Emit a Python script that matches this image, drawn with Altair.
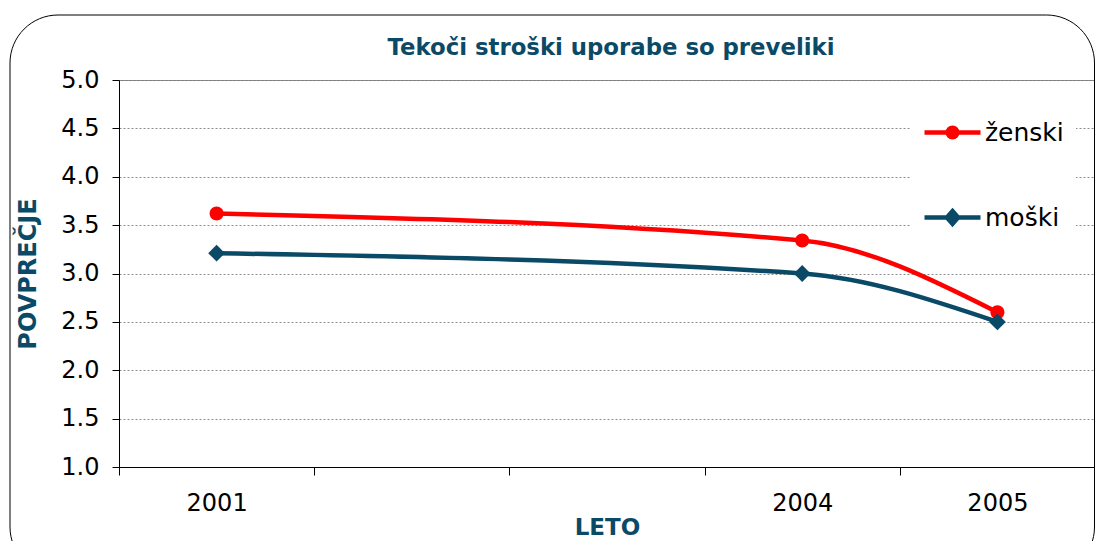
import altair as alt
import pandas as pd

# ---- data ----
years = [2001, 2004, 2005]
zenski = [3.62, 3.34, 2.60]
moski = [3.21, 3.00, 2.50]
series_names = ["ženski", "moški"]
series_colors = ["#FF0000", "#0B4A66"]
year_labels = ["2001", "2004", "2005"]
x_bounds = [2000.5, 2001.5, 2002.5, 2003.5, 2004.5, 2005.5]
y_ticks = [1.0, 1.5, 2.0, 2.5, 3.0, 3.5, 4.0, 4.5, 5.0]

TEAL = "#0B4A66"
FONT = "DejaVu Sans"

df = pd.DataFrame({
    "leto": years + years,
    "povprecje": zenski + moski,
    "spol": [series_names[0]] * len(years) + [series_names[1]] * len(years),
})

label_expr = " : ".join(
    f"datum.value === {y} ? '{l}'" for y, l in zip(years, year_labels)
) + " : ''"

x_enc = alt.X(
    "leto:Q",
    scale=alt.Scale(domain=[x_bounds[0], x_bounds[-1]], nice=False, zero=False),
    axis=alt.Axis(
        values=sorted(x_bounds + years),
        labelExpr=label_expr,
        labelOverlap=False,
        labelFlush=False,
        grid=False,
        tickSize=8,
        tickColor="black",
        tickOpacity={"condition": {"test": "datum.value % 1 === 0", "value": 0}, "value": 1},
        domainColor="black",
        labelFont=FONT,
        labelFontSize=24,
        labelColor="black",
        labelPadding=16,
        title="LETO",
        titleFont=FONT,
        titleFontSize=23,
        titleFontWeight="bold",
        titleColor=TEAL,
        titlePadding=1,
    ),
)
y_enc = alt.Y(
    "povprecje:Q",
    scale=alt.Scale(domain=[1, 5], nice=False, zero=False),
    axis=alt.Axis(
        values=y_ticks,
        format=".1f",
        grid=True,
        gridColor="#8c8c8c",
        gridDash=[2, 2],
        gridWidth=1,
        tickSize=7,
        tickColor="black",
        domainColor="black",
        labelFont=FONT,
        labelFontSize=24,
        labelColor="black",
        labelPadding=13,
        title="POVPREČJE",
        titleFont=FONT,
        titleFontSize=24,
        titleFontWeight="bold",
        titleColor=TEAL,
        titlePadding=20,
    ),
)

color_scale = alt.Scale(domain=series_names, range=series_colors)

base = alt.Chart(df).encode(x=x_enc, y=y_enc)

lines = base.mark_line(strokeWidth=4.5, interpolate="monotone").encode(
    color=alt.Color("spol:N", scale=color_scale, legend=None)
)

circle_path = "M1,0A1,1 0 1,1 -1,0A1,1 0 1,1 1,0Z"
diamond_path = "M0,-1.2L1.2,0L0,1.2L-1.2,0Z"
points = base.mark_point(filled=True, size=196, opacity=1).encode(
    color=alt.Color("spol:N", scale=color_scale, legend=None),
    shape=alt.Shape("spol:N", scale=alt.Scale(domain=series_names, range=[circle_path, diamond_path]), legend=None),
)

leg_circle = "M-1,0L1,0M0.17,0A0.17,0.17 0 1,1 -0.17,0A0.17,0.17 0 1,1 0.17,0Z"
leg_diamond = "M-1,0L1,0M0,-0.23L0.2,0L0,0.23L-0.2,0Z"
legend = alt.Legend(
    title=None,
    orient="none",
    legendX=791,
    legendY=10,
    direction="vertical",
    labelFont=FONT,
    labelFontSize=25,
    labelColor="black",
    labelOffset=2,
    labelLimit=200,
    rowPadding=40,
    padding=12,
    fillColor="white",
    symbolSize=3136,
    symbolStrokeWidth=4.5,
    symbolOpacity=1,
)
legend_layer = base.transform_filter("datum.leto < 0").mark_point(
    filled=True, size=3136, strokeWidth=4.5, opacity=1
).encode(
    fill=alt.Fill("spol:N", scale=alt.Scale(domain=series_names, range=series_colors), legend=legend),
    stroke=alt.Stroke("spol:N", scale=alt.Scale(domain=series_names, range=series_colors), legend=legend),
    shape=alt.Shape("spol:N", scale=alt.Scale(domain=series_names, range=[leg_circle, leg_diamond]), legend=legend),
)

frame = alt.Chart(pd.DataFrame({"f": [0]})).mark_rect(
    filled=False, stroke="black", strokeWidth=1, cornerRadius=48
).encode(
    x=alt.value(-109), x2=alt.value(975.5), y=alt.value(-65), y2=alt.value(495)
)

chart = alt.layer(frame, lines, points, legend_layer).resolve_scale(
    shape="independent", fill="independent", stroke="independent"
).properties(
    width=976,
    height=387,
    autosize=alt.AutoSizeParams(type="none"),
    padding={"left": 111, "top": 72, "right": 0, "bottom": 74},
    title=alt.Title(
        "Tekoči stroški uporabe so preveliki",
        font=FONT,
        fontSize=22.8,
        fontWeight="bold",
        color=TEAL,
        anchor="middle",
        dx=4,
        offset=-45,
    ),
).configure_view(stroke="#7a7a7a", strokeWidth=1)

chart.save("out.html", embed_options={"renderer": "svg", "actions": False})
